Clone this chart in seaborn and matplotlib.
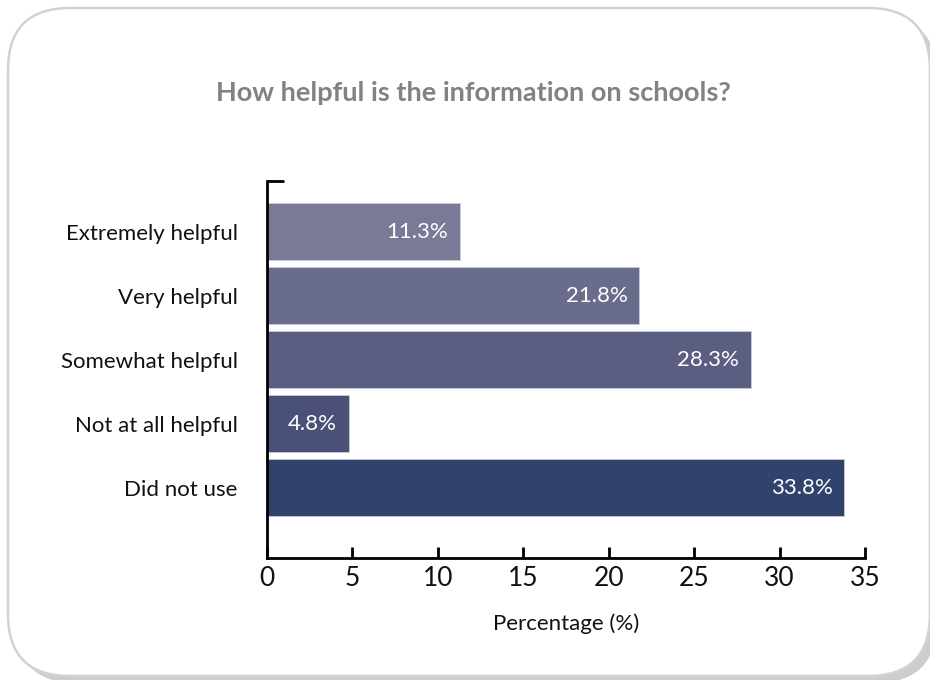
import matplotlib
matplotlib.use("Agg")
import matplotlib.pyplot as plt
from matplotlib.patches import FancyBboxPatch
import seaborn as sns
import pandas as pd

categories = ["Extremely helpful", "Very helpful", "Somewhat helpful",
              "Not at all helpful", "Did not use"]
percentages = [11.3, 21.8, 28.3, 4.8, 33.8]
x_ticks = [0, 5, 10, 15, 20, 25, 30, 35]
bar_colors = ["#7a7a96", "#6a6c8b", "#5b5e80", "#4b5079", "#2f436b"]

title = "How helpful is the information on schools?"
x_label = "Percentage (%)"

sns.set_theme(style="white")
plt.rcParams["font.family"] = ["Lato", "DejaVu Sans"]

W, H = 930, 680
fig = plt.figure(figsize=(W / 100, H / 100), dpi=100)
fig.patch.set_facecolor("white")

# Rounded panel with a soft drop shadow, drawn in pixel units
bg = fig.add_axes([0, 0, 1, 1], zorder=-10)
bg.set_xlim(0, W)
bg.set_ylim(H, 0)
bg.axis("off")
shadow = FancyBboxPatch((15, 15), 922, 668,
                        boxstyle="round,pad=0,rounding_size=62",
                        facecolor="#cdcdcd", edgecolor="none")
panel = FancyBboxPatch((8, 8), 922, 668,
                       boxstyle="round,pad=0,rounding_size=62",
                       facecolor="white", edgecolor="#d2d2d2", linewidth=1.8)
bg.add_patch(shadow)
bg.add_patch(panel)

df = pd.DataFrame({"category": categories, "pct": percentages})

ax = fig.add_axes([267 / W, 1 - 558 / H, (865 - 267) / W, (558 - 181) / H])
ax.patch.set_alpha(0)
sns.barplot(data=df, y="category", x="pct", hue="category",
            palette=bar_colors, saturation=1, orient="h", width=0.89,
            legend=False, edgecolor="#c9cde0", linewidth=0.6, ax=ax)

for bar, val in zip(ax.patches, percentages):
    y = bar.get_y() + bar.get_height() / 2
    ax.text(val - 0.7, y, f"{val}%", ha="right", va="center",
            color="white", fontsize=16)

ax.set_xlim(0, 35)
ax.set_ylim(5.1, -0.79)
ax.set_xticks(x_ticks)
ax.set_xticklabels([str(t) for t in x_ticks], fontsize=19, color="#111111")
ax.tick_params(axis="x", direction="in", length=8, width=2, color="black",
               bottom=True, pad=6)
ax.tick_params(axis="y", left=False, labelsize=16, pad=15, labelcolor="#111111")
ax.set_yticks(range(len(categories)))
ax.set_yticklabels(categories)
# small cap tick at the top of the vertical axis
ax.set_yticks([-0.79], minor=True)
ax.tick_params(axis="y", which="minor", direction="in", length=12, width=2,
               color="black", left=True)

ax.set_ylabel("")
ax.set_xlabel(x_label, fontsize=16, color="#111111", labelpad=16)
for side in ["top", "right"]:
    ax.spines[side].set_visible(False)
for side in ["left", "bottom"]:
    ax.spines[side].set_color("black")
    ax.spines[side].set_linewidth(2)

fig.text(473 / W, 1 - 93 / H, title, ha="center", va="center",
         fontsize=19.5, fontweight="bold", color="#828282")

fig.savefig("out.png", dpi=100, facecolor="white")
